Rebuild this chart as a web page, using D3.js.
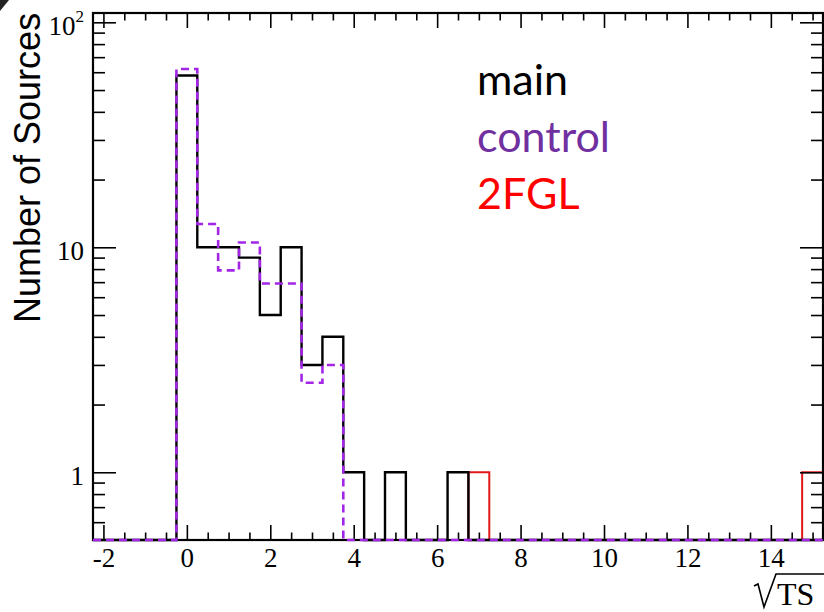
<!DOCTYPE html>
<html>
<head>
<meta charset="utf-8">
<script src="https://cdn.jsdelivr.net/npm/d3@7"></script>
<style>
  body { margin: 0; background: #fff; }
  svg { display: block; }
</style>
</head>
<body>
<div id="chart"></div>
<script>
//-------- Histogram data --------

// binning of sqrt(TS): 35 bins of width 0.5 starting at -2.25
var binStart = -2.25;
var binWidth = 0.5;

// counts per bin (bin centres -2, -1.5, ... 15)
var mainCounts = [0, 0, 0, 0, 58, 10, 10, 9, 5, 10, 3, 4, 1, 0, 1, 0, 0, 1,
  0, 0, 0, 0, 0, 0, 0, 0, 0, 0, 0, 0, 0, 0, 0, 0, 0];
var controlCounts = [0, 0, 0, 0, 62, 12.7, 7.9, 10.5, 6.9, 6.9, 2.5, 3.0, 0, 0, 0, 0, 0, 0,
  0, 0, 0, 0, 0, 0, 0, 0, 0, 0, 0, 0, 0, 0, 0, 0, 0];
var fglCounts = [0, 0, 0, 0, 0, 0, 0, 0, 0, 0, 0, 0, 0, 0, 0, 0, 0, 0,
  1, 0, 0, 0, 0, 0, 0, 0, 0, 0, 0, 0, 0, 0, 0, 0, 1];

// axis ticks
var xMajor = [-2, 0, 2, 4, 6, 8, 10, 12, 14];
var xMinor = [-1.5, -1, -0.5, 0.5, 1, 1.5, 2.5, 3, 3.5, 4.5, 5, 5.5, 6.5, 7, 7.5, 8.5, 9, 9.5,
  10.5, 11, 11.5, 12.5, 13, 13.5, 14.5, 15];
var yMajor = [1, 10, 100];
var yMinor = [0.6, 0.7, 0.8, 0.9, 2, 3, 4, 5, 6, 7, 8, 9, 20, 30, 40, 50, 60, 70, 80, 90];

var legendNames = ['main', 'control', '2FGL'];
var legendColors = ['#000000', '#7030a0', '#ff0000'];

var xDomain = [-2.25, 15.25];
var yDomain = [0.5, 110];

//-------- Canvas and scales --------
var width = 824, height = 612;
var frame = { left: 93, right: 823, top: 13, bottom: 540 };

var svg = d3.select('#chart').append('svg').attr('width', width).attr('height', height);

var x = d3.scaleLinear().domain(xDomain).range([frame.left, frame.right]);
var y = d3.scaleLog().domain(yDomain).range([frame.bottom, frame.top]);

// turn bin counts into a stepped outline (empty bins sit on the bottom of the frame)
var histPoints = function (counts) {
  var pts = [{ x: xDomain[0], v: 0 }];
  counts.forEach(function (c, i) {
    var lo = binStart + i * binWidth;
    pts.push({ x: lo, v: c });
    pts.push({ x: lo + binWidth, v: c });
  });
  pts.push({ x: xDomain[1], v: 0 });
  return pts;
};

var histLine = d3.line()
  .x(function (d) { return x(d.x); })
  .y(function (d) { return d.v > 0 ? y(d.v) : frame.bottom; });

// 2FGL goes underneath everything else, its empty bins hidden by the frame
svg.append('path').attr('d', histLine(histPoints(fglCounts)))
  .attr('fill', 'none').attr('stroke', '#e01818').attr('stroke-width', 2);

//-------- Axes --------
var styleAxis = function (g) {
  g.select('.domain').remove();
  g.selectAll('line').attr('stroke', '#000').attr('stroke-width', 1.6);
  g.selectAll('text').attr('font-family', '"Liberation Serif", "Times New Roman", serif')
    .attr('font-size', 27).attr('fill', '#000');
};

// bottom
svg.append('g').attr('transform', 'translate(0,' + frame.bottom + ')')
  .call(d3.axisBottom(x).tickValues(xMajor).tickSize(-15).tickPadding(8)
    .tickFormat(function (d) { return String(d); }))
  .call(styleAxis);
svg.append('g').attr('transform', 'translate(0,' + frame.bottom + ')')
  .call(d3.axisBottom(x).tickValues(xMinor).tickSize(-7.5).tickFormat(''))
  .call(styleAxis);
// top
svg.append('g').attr('transform', 'translate(0,' + frame.top + ')')
  .call(d3.axisTop(x).tickValues(xMajor).tickSize(-15).tickFormat(''))
  .call(styleAxis);
svg.append('g').attr('transform', 'translate(0,' + frame.top + ')')
  .call(d3.axisTop(x).tickValues(xMinor).tickSize(-7.5).tickFormat(''))
  .call(styleAxis);

// left
var yLeft = svg.append('g').attr('transform', 'translate(' + frame.left + ',0)')
  .call(d3.axisLeft(y).tickValues(yMajor).tickSize(-23).tickPadding(9)
    .tickFormat(function (d) { return d === 100 ? '10' : d; }))
  .call(styleAxis);
yLeft.selectAll('text').attr('dy', '0.45em');
yLeft.selectAll('.tick').filter(function (d) { return d === 100; }).select('text')
  .append('tspan').attr('dy', -13).attr('font-size', 17).text('2');
svg.append('g').attr('transform', 'translate(' + frame.left + ',0)')
  .call(d3.axisLeft(y).tickValues(yMinor).tickSize(-12).tickFormat(''))
  .call(styleAxis);
// right
svg.append('g').attr('transform', 'translate(' + frame.right + ',0)')
  .call(d3.axisRight(y).tickValues(yMajor).tickSize(-23).tickFormat(''))
  .call(styleAxis);
svg.append('g').attr('transform', 'translate(' + frame.right + ',0)')
  .call(d3.axisRight(y).tickValues(yMinor).tickSize(-12).tickFormat(''))
  .call(styleAxis);

// frame
svg.append('rect')
  .attr('x', frame.left).attr('y', frame.top)
  .attr('width', frame.right - frame.left).attr('height', frame.bottom - frame.top)
  .attr('fill', 'none').attr('stroke', '#000').attr('stroke-width', 2.2);

//-------- main and control histograms, over the frame --------
svg.append('path').attr('d', histLine(histPoints(mainCounts)))
  .attr('fill', 'none').attr('stroke', '#000').attr('stroke-width', 2.4);
svg.append('path').attr('d', histLine(histPoints(controlCounts)))
  .attr('fill', 'none').attr('stroke', '#a326e6').attr('stroke-width', 2.6)
  .attr('stroke-dasharray', '8,5');

//-------- Titles --------
svg.append('text')
  .attr('transform', 'translate(40,323) rotate(-90)')
  .attr('font-family', '"Liberation Sans", Arial, sans-serif')
  .attr('font-size', 36).attr('fill', '#000')
  .text('Number of Sources');

// sqrt(TS) axis title: radical drawn as a line, TS as text
svg.append('path')
  .attr('d', 'M754,586 L758,584 L764,607 L776,574 L824,574')
  .attr('fill', 'none').attr('stroke', '#000').attr('stroke-width', 1.6);
svg.append('text')
  .attr('x', 777).attr('y', 605)
  .attr('font-family', '"Liberation Serif", "Times New Roman", serif')
  .attr('font-size', 32).attr('fill', '#000')
  .text('TS');

//-------- Legend --------
svg.selectAll('.legend').data(legendNames).enter().append('text')
  .attr('class', 'legend')
  .attr('x', 477)
  .attr('y', function (d, i) { return 95 + i * 57; })
  .attr('font-family', 'Lato, "Open Sans", sans-serif')
  .attr('font-size', 43)
  .attr('fill', function (d, i) { return legendColors[i]; })
  .text(function (d) { return d; });

// slide corner mark
svg.append('path').attr('d', 'M0,0 L9,0 L0,11 Z').attr('fill', '#222');
</script>
</body>
</html>
